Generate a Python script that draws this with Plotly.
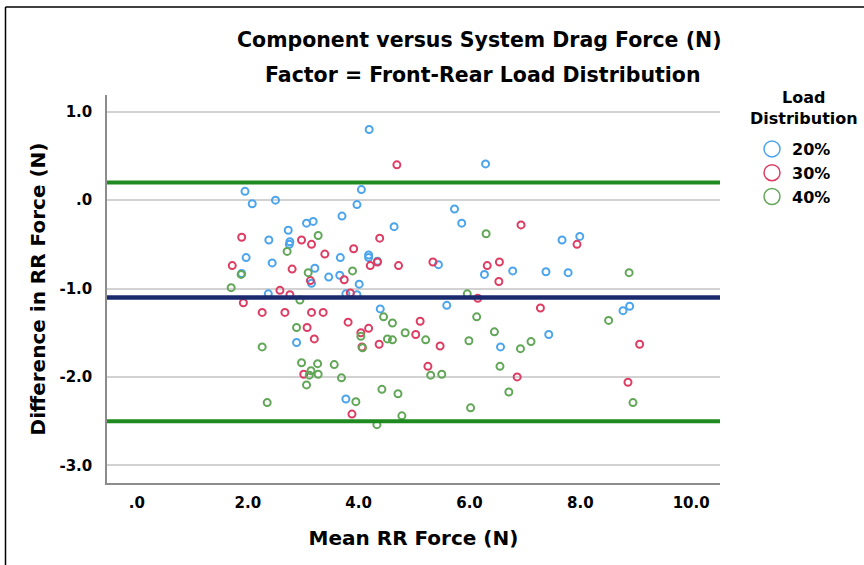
import plotly.graph_objects as go

# ---- data ----
groups = ["20%", "30%", "40%"]

x_20 = [1.95, 2.08, 2.50, 3.06, 3.18, 2.73, 2.38, 2.76, 2.75, 1.97, 2.44, 3.21, 3.15, 4.19, 6.29,
        4.05, 3.97, 5.73, 5.86, 3.70, 4.64, 3.67, 4.18, 4.18, 4.34, 3.46, 3.66, 4.01, 5.44, 6.27,
        6.78, 7.67, 7.99, 7.38, 7.78, 2.37, 2.88, 3.77, 3.97, 4.39, 5.59, 6.56, 3.77, 8.77, 8.89,
        7.43, 1.89]
y_20 = [0.10, -0.04, 0.00, -0.26, -0.24, -0.34, -0.45, -0.47, -0.50, -0.65, -0.71, -0.77, -0.94, 0.80, 0.41,
        0.12, -0.05, -0.10, -0.26, -0.18, -0.30, -0.65, -0.62, -0.65, -0.69, -0.87, -0.85, -0.95, -0.73, -0.84,
        -0.80, -0.45, -0.41, -0.81, -0.82, -1.06, -1.61, -1.06, -1.07, -1.23, -1.19, -1.66, -2.25, -1.25, -1.20,
        -1.52, -0.83]

x_30 = [1.89, 2.97, 3.15, 1.72, 2.80, 3.13, 2.58, 4.69, 3.39, 3.91, 4.38, 4.34, 4.21, 4.72, 5.34,
        6.32, 6.54, 6.53, 3.74, 3.85, 6.93, 7.94, 2.76, 1.92, 2.26, 2.67, 3.15, 3.07, 3.20, 3.01,
        3.36, 3.81, 4.18, 4.04, 4.06, 4.37, 5.11, 5.03, 5.47, 5.25, 3.88, 6.15, 6.86, 7.28, 9.07,
        8.86]
y_30 = [-0.42, -0.45, -0.50, -0.74, -0.78, -0.91, -1.02, 0.40, -0.61, -0.55, -0.43, -0.70, -0.74, -0.74, -0.70,
        -0.74, -0.70, -0.92, -0.90, -1.05, -0.28, -0.50, -1.07, -1.16, -1.27, -1.27, -1.27, -1.44, -1.57, -1.97,
        -1.27, -1.38, -1.45, -1.50, -1.66, -1.63, -1.37, -1.52, -1.65, -1.88, -2.42, -1.11, -2.00, -1.22, -1.63,
        -2.06]

x_40 = [3.27, 2.71, 1.88, 3.09, 1.70, 3.89, 6.30, 8.88, 2.94, 2.88, 2.26, 2.97, 3.26, 3.14, 3.27,
        3.11, 3.06, 2.35, 4.45, 4.61, 4.04, 4.07, 4.52, 4.61, 4.84, 5.21, 5.99, 6.13, 5.96, 6.45,
        3.56, 3.69, 3.95, 4.42, 4.71, 5.30, 5.50, 6.55, 6.71, 6.02, 4.78, 4.33, 6.92, 8.51, 7.11,
        8.95]
y_40 = [-0.40, -0.58, -0.84, -0.82, -0.99, -0.80, -0.38, -0.82, -1.13, -1.44, -1.66, -1.84, -1.85, -1.93, -1.97,
        -1.98, -2.09, -2.29, -1.32, -1.39, -1.54, -1.67, -1.57, -1.58, -1.50, -1.58, -1.59, -1.32, -1.06, -1.49,
        -1.86, -2.01, -2.28, -2.14, -2.19, -1.98, -1.97, -1.88, -2.17, -2.35, -2.44, -2.54, -1.68, -1.36, -1.60,
        -2.29]

ref_upper = 0.20
ref_mean = -1.10
ref_lower = -2.50

x_tickvals = [0, 2, 4, 6, 8, 10]
x_ticktext = [".0", "2.0", "4.0", "6.0", "8.0", "10.0"]
y_tickvals = [1, 0, -1, -2, -3]
y_ticktext = ["1.0", ".0", "-1.0", "-2.0", "-3.0"]

colors = ["#4ca5ec", "#dd3d63", "#62a758"]
FONT = "DejaVu Sans"

# plot area in pixels
L, R, T, B = 107, 720, 95, 483
W, H = 864, 565
def px(xp):
    return (xp - L) / (R - L)
def py(yp):
    return (B - yp) / (B - T)

fig = go.Figure()
series = [(x_20, y_20), (x_30, y_30), (x_40, y_40)]
for (xs, ys), name, col in zip(series, groups, colors):
    fig.add_trace(go.Scatter(
        x=xs, y=ys, mode="markers", name=name, showlegend=False,
        marker=dict(symbol="circle-open", size=7, color=col, line=dict(width=2, color=col)),
    ))
# legend entries with larger symbols
for name, col in zip(groups, colors):
    fig.add_trace(go.Scatter(
        x=[None], y=[None], mode="markers", name=name, showlegend=True,
        marker=dict(symbol="circle-open", size=16, color=col, line=dict(width=1.5, color=col)),
    ))

shapes = []
for val, col, w in [(ref_upper, "#1f8a1f", 4), (ref_lower, "#1f8a1f", 4), (ref_mean, "#1b2a6e", 4.5)]:
    shapes.append(dict(type="line", xref="paper", x0=0, x1=1, yref="y", y0=val, y1=val,
                       line=dict(color=col, width=w), layer="above"))
# outer frame (left and top edges)
shapes.append(dict(type="line", xref="paper", yref="paper", x0=px(5.5), x1=px(5.5), y0=py(570), y1=py(7),
                   line=dict(color="black", width=1.5)))
shapes.append(dict(type="line", xref="paper", yref="paper", x0=px(5.5), x1=px(870), y0=py(7), y1=py(7),
                   line=dict(color="black", width=1.5)))

fig.update_layout(
    width=W, height=H,
    margin=dict(l=L, r=W - R, t=T, b=H - B, autoexpand=False),
    paper_bgcolor="white", plot_bgcolor="white",
    font=dict(family=FONT, color="black"),
    shapes=shapes,
    showlegend=True,
    legend=dict(
        x=px(752), y=py(132), xanchor="left", yanchor="top",
        font=dict(family=FONT, size=16, weight="bold"),
        bgcolor="rgba(0,0,0,0)", itemsizing="trace", tracegroupgap=0,
    ),
    annotations=[
        dict(text="Component versus System Drag Force (N)", xref="paper", yref="paper",
             x=px(479), y=py(40), xanchor="center", yanchor="middle",
             showarrow=False, font=dict(family=FONT, size=20.5, weight="bold")),
        dict(text="Factor = Front-Rear Load Distribution", xref="paper", yref="paper",
             x=px(483), y=py(75), xanchor="center", yanchor="middle",
             showarrow=False, font=dict(family=FONT, size=20.5, weight="bold")),
        dict(text="Load<br>Distribution", xref="paper", yref="paper",
             x=px(804), y=py(108), xanchor="center", yanchor="middle", align="center",
             showarrow=False, font=dict(family=FONT, size=16, weight="bold")),
    ],
)

fig.update_xaxes(
    range=[-0.54, 10.52], tickvals=x_tickvals, ticktext=x_ticktext,
    showgrid=False, zeroline=False, showline=True, linecolor="#8c8c8c", linewidth=1.5,
    ticks="", ticklabelstandoff=5, tickfont=dict(family=FONT, size=15, weight="bold"),
    title=dict(text="Mean RR Force (N)", font=dict(family=FONT, size=20, weight="bold"), standoff=20),
)
fig.update_yaxes(
    range=[-3.2, 1.19], tickvals=y_tickvals, ticktext=y_ticktext,
    showgrid=True, gridcolor="#d2d2d2", gridwidth=2, zeroline=False,
    showline=True, linecolor="#8c8c8c", linewidth=1.5,
    ticks="", ticklabelstandoff=10, tickfont=dict(family=FONT, size=15, weight="bold"),
    title=dict(text="Difference in RR Force (N)", font=dict(family=FONT, size=20, weight="bold"), standoff=8),
)

fig.write_html("out.html", config={"displayModeBar": False},
               post_script="document.body.style.margin='0';")
